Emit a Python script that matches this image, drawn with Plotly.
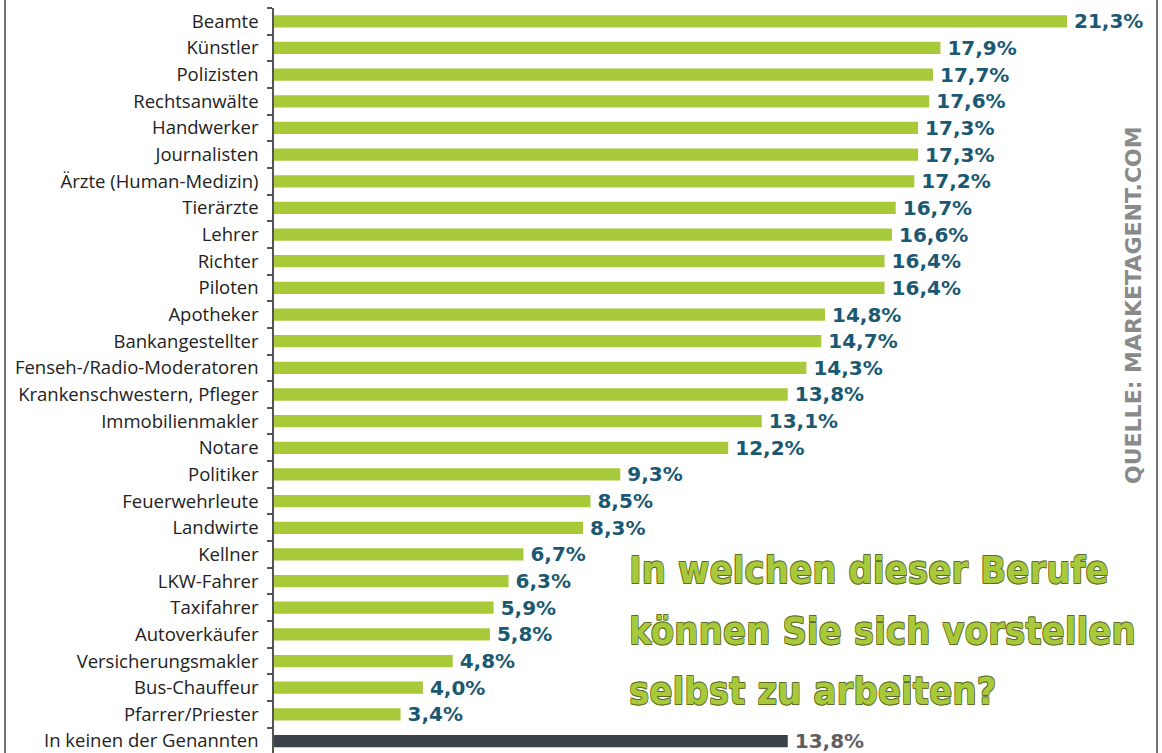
import plotly.graph_objects as go

categories = [
    "Beamte", "Künstler", "Polizisten", "Rechtsanwälte", "Handwerker",
    "Journalisten", "Ärzte (Human-Medizin)", "Tierärzte", "Lehrer", "Richter",
    "Piloten", "Apotheker", "Bankangestellter", "Fenseh-/Radio-Moderatoren",
    "Krankenschwestern, Pfleger", "Immobilienmakler", "Notare", "Politiker",
    "Feuerwehrleute", "Landwirte", "Kellner", "LKW-Fahrer", "Taxifahrer",
    "Autoverkäufer", "Versicherungsmakler", "Bus-Chauffeur", "Pfarrer/Priester",
    "In keinen der Genannten",
]
values = [
    21.3, 17.9, 17.7, 17.6, 17.3, 17.3, 17.2, 16.7, 16.6, 16.4, 16.4, 14.8,
    14.7, 14.3, 13.8, 13.1, 12.2, 9.3, 8.5, 8.3, 6.7, 6.3, 5.9, 5.8, 4.8,
    4.0, 3.4, 13.8,
]
title_lines = [
    "In welchen dieser Berufe",
    "können Sie sich vorstellen",
    "selbst zu arbeiten?",
]
source_text = "QUELLE: MARKETAGENT.COM"

W, H = 1162, 753
ML, MR, MT, MB = 274, 0, 8, 0
PW, PH = W - ML - MR, H - MT - MB
PX_PER_UNIT = 37.23

GREEN = "#a8c93a"
DARK = "#3b424a"
TEAL = "#1b5872"
GREY_TXT = "#5f5f5f"

special = "In keinen der Genannten"
bar_colors = [DARK if c == special else GREEN for c in categories]
txt_colors = [GREY_TXT if c == special else TEAL for c in categories]


def px_x(x):
    return (x - ML) / PW


def px_y(y):
    return 1 - (y - MT) / PH


fig = go.Figure(
    go.Bar(
        x=values,
        y=categories,
        orientation="h",
        width=0.46,
        marker=dict(color=bar_colors, line=dict(width=0)),
        texttemplate="\u2009%{x:.1f}%",
        textposition="outside",
        constraintext="none",
        cliponaxis=False,
        textfont=dict(family="DejaVu Sans", size=20, color=txt_colors, weight="bold"),
        hoverinfo="skip",
    )
)

n = len(categories)
bottom = (n - 1) + 12 / 26.67
fig.update_layout(
    width=W,
    height=H,
    margin=dict(l=ML, r=MR, t=MT, b=MB, pad=0),
    paper_bgcolor="white",
    plot_bgcolor="white",
    separators=",.",
    showlegend=False,
    xaxis=dict(
        range=[0, PW / PX_PER_UNIT],
        visible=False,
        showgrid=False,
        zeroline=False,
    ),
    yaxis=dict(
        type="category",
        categoryorder="array",
        categoryarray=categories,
        range=[bottom, -0.5],
        showline=True,
        linecolor="#555555",
        linewidth=1.5,
        ticks="outside",
        tickson="boundaries",
        ticklen=5,
        tickcolor="#555555",
        tickwidth=1.5,
        ticklabelstandoff=10,
        showgrid=False,
        zeroline=False,
        automargin=False,
        tickfont=dict(family="Open Sans", size=18.5, color="#222222"),
    ),
)

# frame lines on the left and right edges
for xp in (5, 1157):
    fig.add_shape(
        type="line", xref="paper", yref="paper",
        x0=px_x(xp), x1=px_x(xp), y0=px_y(0), y1=px_y(H),
        line=dict(color="#444444", width=1.5),
    )

# title block
oc = "#5d6b2a"
outline = (f"-0.6px -0.6px 0 {oc}, 0.6px -0.6px 0 {oc}, "
           f"-0.6px 0.6px 0 {oc}, 0.6px 0.6px 0 {oc}")
for line, ypix in zip(title_lines, (570, 631, 691)):
    fig.add_annotation(
        text=line, xref="paper", yref="paper",
        x=px_x(627), y=px_y(ypix), xanchor="left", yanchor="middle",
        showarrow=False,
        font=dict(family="DejaVu Sans Condensed", size=38,
                  color=GREEN, weight="bold", shadow=outline),
    )

# source text
fig.add_annotation(
    text=source_text, xref="paper", yref="paper",
    x=px_x(1134), y=px_y(305), xanchor="center", yanchor="middle",
    showarrow=False, textangle=-90,
    font=dict(family="DejaVu Sans", size=22, color="#8a8a8a", weight="bold"),
)

fig.write_html(
    "out.html",
    config={"displayModeBar": False},
    post_script="document.body.style.margin='0px';",
)
